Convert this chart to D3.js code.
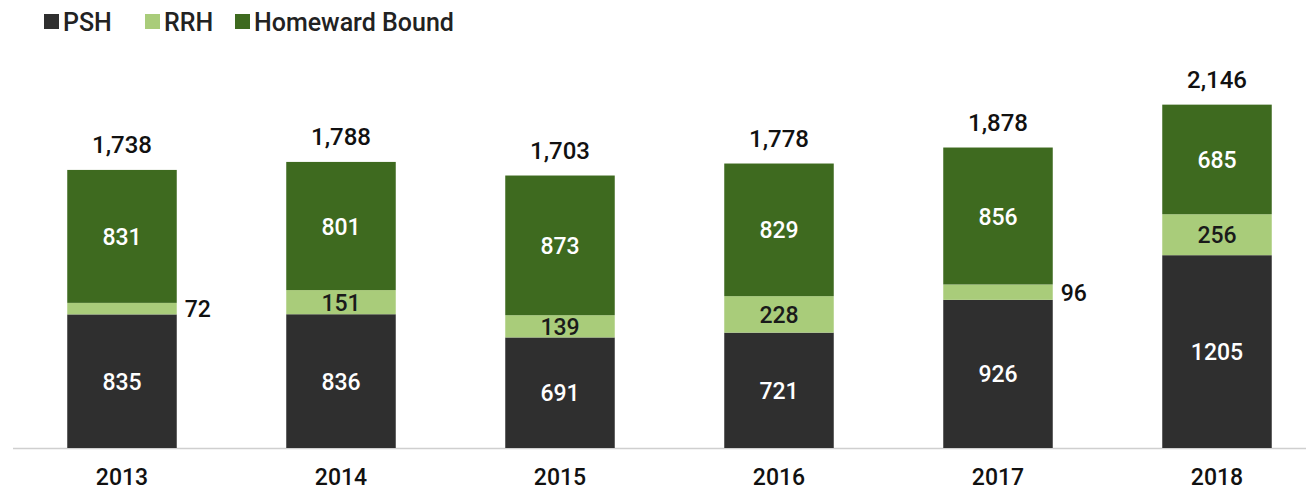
<!DOCTYPE html>
<html>
<head>
<meta charset="utf-8">
<script src="https://cdn.jsdelivr.net/npm/d3@7/dist/d3.min.js"></script>
<style>
  body { margin: 0; background: #fff; }
  text { font-family: Roboto, "Noto Sans", sans-serif; }
</style>
</head>
<body>
<svg id="chart"></svg>
<script>
// data
var years = ["2013", "2014", "2015", "2016", "2017", "2018"];
var psh = [835, 836, 691, 721, 926, 1205];
var rrh = [72, 151, 139, 228, 96, 256];
var homeward = [831, 801, 873, 829, 856, 685];
var totals = ["1,738", "1,788", "1,703", "1,778", "1,878", "2,146"];
var seriesNames = ["PSH", "RRH", "Homeward Bound"];

var width = 1306, height = 494;
var colors = {"PSH": "#2f2f2f", "RRH": "#a9cc7a", "Homeward Bound": "#3e6a1f"};
var labelColors = {"PSH": "#fff", "RRH": "#1a1a1a", "Homeward Bound": "#fff"};

var svg = d3.select("#chart")
  .attr("width", width)
  .attr("height", height);

// build rows for the stack
var rows = years.map(function(y, i) {
  return {year: y, "PSH": psh[i], "RRH": rrh[i], "Homeward Bound": homeward[i], total: totals[i]};
});

var x = d3.scaleBand()
  .domain(years)
  .range([12.5, 1326.5])
  .paddingInner(0.5)
  .paddingOuter(0.25);

var y = d3.scaleLinear()
  .domain([0, 2800])
  .range([448, 0]);

var stack = d3.stack().keys(seriesNames);
var layers = stack(rows);

// baseline
svg.append("line")
  .attr("x1", 13).attr("x2", width)
  .attr("y1", y(0) + 0.5).attr("y2", y(0) + 0.5)
  .attr("stroke", "#cfcfcf")
  .attr("stroke-width", 1.5);

var layer = svg.selectAll(".layer")
  .data(layers)
  .enter().append("g")
  .attr("class", "layer")
  .attr("fill", function(d) { return colors[d.key]; });

layer.selectAll("rect")
  .data(function(d) { return d; })
  .enter().append("rect")
  .attr("x", function(d) { return x(d.data.year); })
  .attr("y", function(d) { return y(d[1]); })
  .attr("width", x.bandwidth())
  .attr("height", function(d) { return y(d[0]) - y(d[1]); });

// segment labels (small ones go to the right of the bar)
layers.forEach(function(l) {
  svg.selectAll(".lbl-" + l.index)
    .data(l)
    .enter().append("text")
    .attr("class", "lbl-" + l.index)
    .attr("font-size", 23)
    .attr("font-weight", 500)
    .attr("dominant-baseline", "central")
    .attr("text-anchor", function(d) { return (d[1] - d[0]) < 110 ? "start" : "middle"; })
    .attr("x", function(d) {
      return (d[1] - d[0]) < 110 ? x(d.data.year) + x.bandwidth() + 8 : x(d.data.year) + x.bandwidth() / 2;
    })
    .attr("y", function(d) { return (y(d[0]) + y(d[1])) / 2 + 1; })
    .attr("fill", function(d) { return (d[1] - d[0]) < 110 ? "#111" : labelColors[l.key]; })
    .text(function(d) { return d[1] - d[0]; });
});

// totals above bars
svg.selectAll(".total")
  .data(layers[2])
  .enter().append("text")
  .attr("class", "total")
  .attr("font-size", 24)
  .attr("font-weight", 500)
  .attr("fill", "#111")
  .attr("text-anchor", "middle")
  .attr("x", function(d) { return x(d.data.year) + x.bandwidth() / 2; })
  .attr("y", function(d) { return y(d[1]) - 17; })
  .text(function(d) { return d.data.total; });

// x axis labels
var xAxis = svg.append("g")
  .attr("transform", "translate(0," + 469 + ")")
  .call(d3.axisBottom(x).tickSize(0).tickPadding(0));
xAxis.select(".domain").remove();
xAxis.selectAll("text")
  .attr("font-size", 23)
  .attr("font-weight", 500)
  .attr("fill", "#111")
  .attr("font-family", "Roboto, sans-serif");

// legend
var legendX = [44, 145, 235];
var legend = svg.selectAll(".legend")
  .data(seriesNames)
  .enter().append("g")
  .attr("class", "legend")
  .attr("transform", function(d, i) { return "translate(" + legendX[i] + ",21)"; });

legend.append("rect")
  .attr("x", 0).attr("y", -7)
  .attr("width", 15).attr("height", 15)
  .attr("fill", function(d) { return colors[d]; });

legend.append("text")
  .attr("x", 19)
  .attr("y", 1)
  .attr("dominant-baseline", "central")
  .attr("font-size", 25)
  .attr("font-weight", 500)
  .attr("fill", "#222")
  .text(function(d) { return d; });
</script>
</body>
</html>
